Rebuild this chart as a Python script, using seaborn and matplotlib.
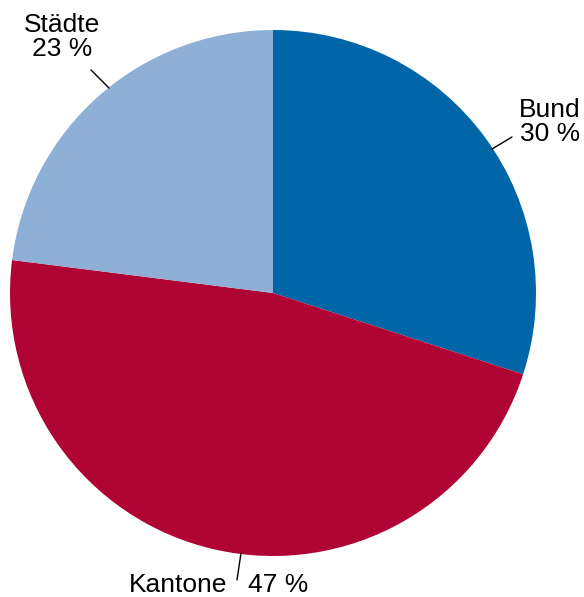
import matplotlib
matplotlib.use("Agg")
import matplotlib.pyplot as plt
import seaborn as sns

# Shares of spending by level of government
categories = ["Bund", "Kantone", "Städte"]
shares = [30, 47, 23]
colors = ["#0066a8", "#b00435", "#8fb0d6"]

sns.set_style("white")
plt.rcParams["font.family"] = ["Liberation Sans", "DejaVu Sans"]
plt.rcParams["text.color"] = "black"

W, H = 584, 597
fig = plt.figure(figsize=(W / 100, H / 100), dpi=100)
cx, cy, r = 273, 293, 263
ax = fig.add_axes([(cx - r) / W, (H - cy - r) / H, 2 * r / W, 2 * r / H])
ax.pie(shares, colors=colors, startangle=90, counterclock=False, radius=1,
       wedgeprops=dict(linewidth=0))
ax.set_xlim(-1, 1)
ax.set_ylim(-1, 1)
ax.set_aspect("equal")
ax.axis("off")


def d(px, py):
    """pixel position -> data coordinates of the pie axes"""
    return ((px - cx) / r, (cy - py) / r)


fs = 19
lw = 1.0
# Städte
ax.text(*d(62, 37), f"{categories[2]}\n{shares[2]} %", ha="center", va="center",
        fontsize=fs, linespacing=1.05, color="black", clip_on=False)
ax.plot(*zip(d(91, 70), d(109, 88)), color="black", lw=lw, clip_on=False)
# Bund
ax.text(*d(550, 122), f"{categories[0]}\n{shares[0]} %", ha="center", va="center",
        fontsize=fs, linespacing=1.05, color="black", clip_on=False)
ax.plot(*zip(d(512, 137), d(492, 149)), color="black", lw=lw, clip_on=False)
# Kantone
ax.text(*d(227, 585), categories[1], ha="right", va="center", fontsize=fs,
        color="black", clip_on=False)
ax.text(*d(248, 585), f"{shares[1]} %", ha="left", va="center", fontsize=fs,
        color="black", clip_on=False)
ax.plot(*zip(d(241, 553), d(237, 580)), color="black", lw=lw, clip_on=False)

fig.savefig("out.png", dpi=100)
